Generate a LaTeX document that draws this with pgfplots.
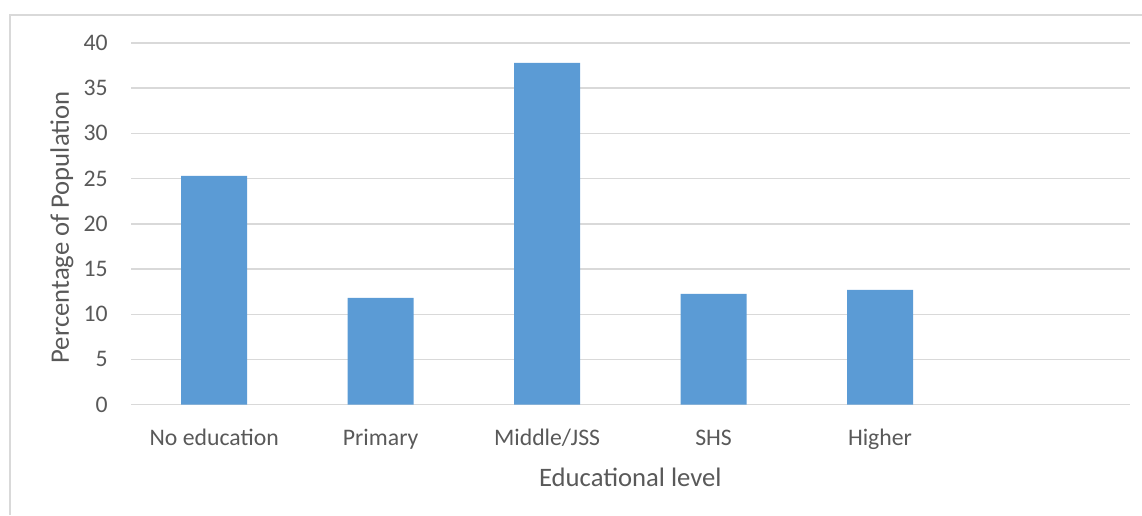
\documentclass[border=0pt]{standalone}
\usepackage{pgfplots}
\pgfplotsset{compat=1.18}
\usepackage{fontspec}
\setmainfont{Carlito}
\definecolor{barblue}{HTML}{5B9BD5}
\definecolor{txtgray}{HTML}{595959}
\definecolor{gridgray}{HTML}{D9D9D9}
\begin{document}
\begin{tikzpicture}
\useasboundingbox (0pt,0pt) rectangle (856.5pt,-386.25pt);
\draw[gridgray, line width=0.9pt] (7.5pt,-386.25pt) -- (7.5pt,-11.25pt) -- (856.5pt,-11.25pt);
\begin{axis}[
  at={(98.25pt,-303.5pt)}, anchor=south west,
  width=749pt, height=271.3pt, scale only axis,
  xmin=-0.5, xmax=5.5, ymin=0, ymax=40,
  ytick={0,5,...,40},
  xtick={0,1,2,3,4},
  xticklabels={No education,Primary,Middle/JSS,SHS,Higher},
  major tick length=0pt,
  axis line style={draw=none},
  ymajorgrids, grid style={gridgray, line width=1.1pt},
  tick label style={font=\fontsize{17.8pt}{20pt}\selectfont, text=txtgray},
  /pgf/number format/assume math mode=true,
  yticklabel style={anchor=east, inner sep=0pt, xshift=-17.25pt},
  xticklabel style={anchor=base, inner sep=0pt, yshift=-30.5pt},
  xlabel={Educational level},
  ylabel={Percentage of Population},
  label style={font=\fontsize{20pt}{24pt}\selectfont, text=txtgray},
  xlabel style={at={(axis description cs:0.5,0)}, anchor=base, inner sep=0pt, yshift=-61pt},
  ylabel style={at={(axis description cs:-0.0691,0.49)}, anchor=center, inner sep=0pt},
  clip=false,
]
\addplot[ybar, bar width=49.5pt, fill=barblue, draw=none] coordinates {
  (0,25.3) (1,11.8) (2,37.8) (3,12.25) (4,12.7)
};
\end{axis}
\end{tikzpicture}
\end{document}
